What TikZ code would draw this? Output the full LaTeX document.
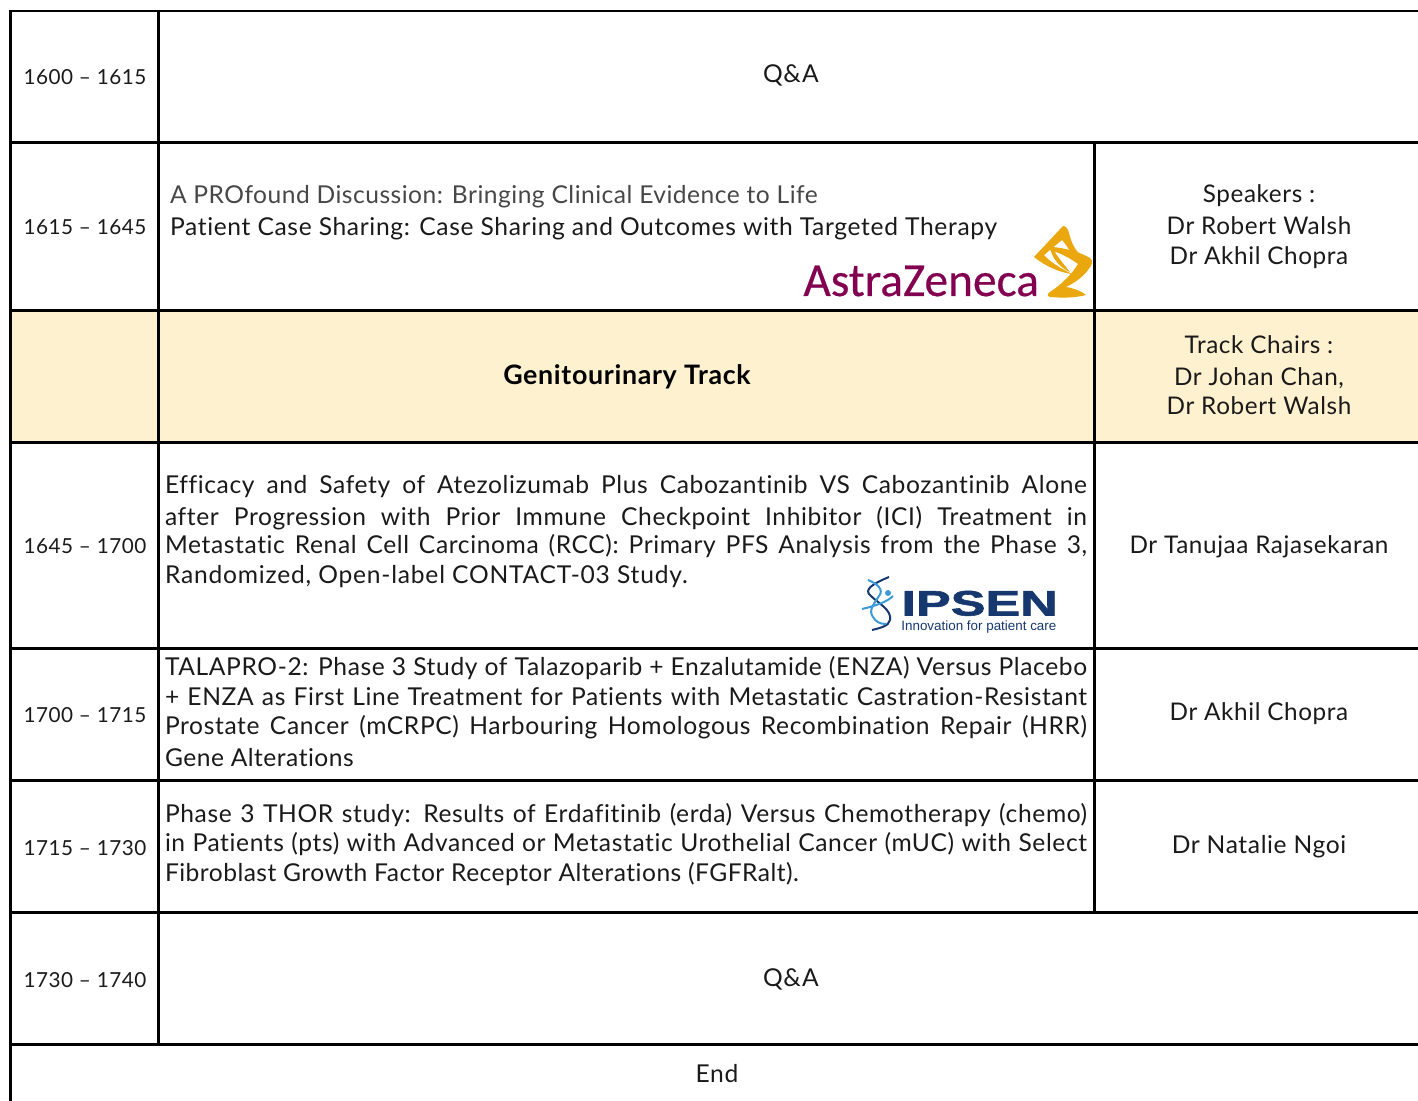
\documentclass[tikz,border=0pt]{standalone}
\usepackage{fontspec}
\setmainfont{Lato}[LetterSpace=2.5,Ligatures={NoCommon}]
\newfontfamily\azfont{Carlito}[FakeBold=0.4]
\newfontfamily\ipfont{Liberation Sans}
\newfontfamily\ipfontb{Liberation Sans Bold}[FakeBold=1.5]
\definecolor{rowyellow}{HTML}{FEF1CF}
\definecolor{azmaroon}{HTML}{830051}
\definecolor{azgold}{HTML}{EBA70E}
\definecolor{ipnavy}{HTML}{17386F}
\definecolor{ipsky}{HTML}{3C9AD6}
\definecolor{inktext}{HTML}{1A1A1A}
\tikzset{
  x=0.5pt,y=-0.5pt,
  rule/.style={line width=1.5pt,black},
  txt/.style={inner sep=0,outer sep=0,text=inktext,font=\fontsize{12.3}{14}\selectfont,anchor=base},
  rc/.style={txt,font=\fontsize{12.15}{14}\selectfont},
  tm/.style={txt,font=\fontsize{10.35}{13}\selectfont},
  ln/.style={txt,anchor=base west},
}
\newcommand{\jl}[1]{\makebox[461pt][s]{#1}}
\begin{document}
\begin{tikzpicture}
\useasboundingbox (0,0) rectangle (1418,1101);
\fill[white] (0,0) rectangle (1418,1101);
\fill[rowyellow] (10,310.5) rectangle (1418,442.5);
% rules
\foreach \yy in {142.5,310.5,442.5,648.5,780.5,912.5,1044.5}{\draw[rule] (10,\yy) -- (1418,\yy);}
\draw[rule,line width=1pt] (10,11) -- (1418,11);
\draw[rule] (10.5,10.5) -- (10.5,1101);
\draw[rule] (158.5,11) -- (158.5,1044.5);
\draw[rule] (1094.5,142.5) -- (1094.5,912.5);
% times
\node[tm] (t1) at (85,85) {1600 – 1615};
\node[tm] (t2) at (85,235) {1615 – 1645};
\node[tm] (t3) at (85,553.5) {1645 – 1700};
\node[tm] (t4) at (85,722.5) {1700 – 1715};
\node[tm] (t5) at (85,855) {1715 – 1730};
\node[tm] (t6) at (85,987) {1730 – 1740};
% spanning
\node[txt] (qa1) at (791,83) {Q\&A};
\node[txt] (qa2) at (791,986) {Q\&A};
\node[txt] (endn) at (717,1082) {End};
% astrazeneca row
\node[ln,text=black!72,font=\fontsize{12.3}{14}\selectfont\addfontfeature{LetterSpace=1.95}] (a1) at (170,203.5) {A PROfound Discussion: Bringing Clinical Evidence to Life};
\node[ln,font=\fontsize{12.3}{14}\selectfont\addfontfeature{LetterSpace=2.7}] (a2) at (170,235.5) {Patient Case Sharing: Case Sharing and Outcomes with Targeted Therapy};
\node[rc] (s1) at (1259,203) {Speakers :};
\node[rc] (s2) at (1259,235) {Dr Robert Walsh};
\node[rc] (s3) at (1259,265) {Dr Akhil Chopra};
% track
\node[txt,font=\fontsize{13.4}{15}\bfseries\selectfont,text=black] (g) at (627,385) {Genitourinary Track};
\node[rc] (c1) at (1259,353.5) {Track Chairs :};
\node[rc] (c2) at (1259,385.5) {Dr Johan Chan,};
\node[rc] (c3) at (1259,414.5) {Dr Robert Walsh};
% talks
\node[ln] (b1) at (165,493) {\jl{Efficacy and Safety of Atezolizumab Plus Cabozantinib VS Cabozantinib Alone}};
\node[ln] (b2) at (165,525) {\jl{after Progression with Prior Immune Checkpoint Inhibitor (ICI) Treatment in}};
\node[ln] (b3) at (165,553) {\jl{Metastatic Renal Cell Carcinoma (RCC): Primary PFS Analysis from the Phase 3,}};
\node[ln,font=\fontsize{12.3}{14}\selectfont\addfontfeature{LetterSpace=3.2}] (b4) at (165,583) {Randomized, Open-label CONTACT-03 Study.};
\node[rc] (s4) at (1259,553) {Dr Tanujaa Rajasekaran};
\node[ln] (c1l) at (165,675.5) {\jl{TALAPRO-2: Phase 3 Study of Talazoparib + Enzalutamide (ENZA) Versus Placebo}};
\node[ln] (c2l) at (165,705.5) {\jl{+ ENZA as First Line Treatment for Patients with Metastatic Castration-Resistant}};
\node[ln] (c3l) at (165,734.5) {\jl{Prostate Cancer (mCRPC) Harbouring Homologous Recombination Repair (HRR)}};
\node[ln,font=\fontsize{12.3}{14}\selectfont\addfontfeature{LetterSpace=2}] (c4l) at (165,766.5) {Gene Alterations};
\node[rc] (s5) at (1259,720.5) {Dr Akhil Chopra};
\node[ln] (d1) at (165,822.5) {\jl{Phase 3 THOR study: Results of Erdafitinib (erda) Versus Chemotherapy (chemo)}};
\node[ln] (d2) at (165,851.5) {\jl{in Patients (pts) with Advanced or Metastatic Urothelial Cancer (mUC) with Select}};
\node[ln,font=\fontsize{12.3}{14}\selectfont\addfontfeature{LetterSpace=1.9}] (d3) at (165,881.5) {Fibroblast Growth Factor Receptor Alterations (FGFRalt).};
\node[txt] (s6) at (1259,853.5) {Dr Natalie Ngoi};
% AstraZeneca logo
\node[anchor=base west,inner sep=0,text=azmaroon,font=\azfont\fontsize{23.7}{24}\selectfont] (azl) at (803,296) {AstraZeneca};
\fill[azgold,even odd rule]
  (1063,226) .. controls (1066,226) and (1068,229) .. (1069,233)
  .. controls (1072,245) and (1076,252) .. (1085,259) -- (1073,256)
  .. controls (1068,248) and (1065,243) .. (1062,240)
  -- (1044,255) .. controls (1050,262) and (1060,268) .. (1072,274)
  .. controls (1062,273) and (1046,267) .. (1034,257) -- cycle;
\fill[azgold]
  (1050,247) .. controls (1062,247) and (1080,252) .. (1090,258)
  .. controls (1094,261) and (1092,265) .. (1088,270)
  .. controls (1082,278) and (1074,283) .. (1066,287)
  .. controls (1072,288) and (1080,290) .. (1086,295)
  .. controls (1075,298) and (1062,298) .. (1050,297)
  .. controls (1047,296) and (1047,294) .. (1050,292)
  .. controls (1062,284) and (1072,274) .. (1078,264)
  .. controls (1070,258) and (1060,253) .. (1050,250) -- cycle;
\fill[azgold] (1050,248) .. controls (1052,258) and (1060,268) .. (1070,272)
  .. controls (1062,262) and (1056,255) .. (1054,250) -- cycle;
% Ipsen logo
\node[anchor=base west,inner sep=0,text=ipnavy,font=\ipfontb\fontsize{21}{21}\selectfont,xscale=1.24,yscale=0.84] (ipl) at (901,615.5) {IPSEN};
\node[anchor=base west,inner sep=0,text=ipnavy,font=\ipfont\fontsize{6.7}{7}\selectfont] (ipt) at (901,630) {Innovation for patient care};
\draw[ipnavy,line width=1pt] (889,577) .. controls (872,584) and (863,590) .. (871,596) .. controls (878,603) and (892,610) .. (890,620) .. controls (889,626) and (880,628) .. (872,630);
\draw[ipsky,line width=1pt] (868,580) .. controls (878,584) and (884,590) .. (879,596) .. controls (874,604) and (868,610) .. (873,617) .. controls (876,622) and (880,624) .. (886,624);
\draw[ipsky,line width=1pt] (862,609) .. controls (875,606) and (887,602) .. (893,596);
\fill[ipsky] (888,593) circle (3);
\end{tikzpicture}
\end{document}
